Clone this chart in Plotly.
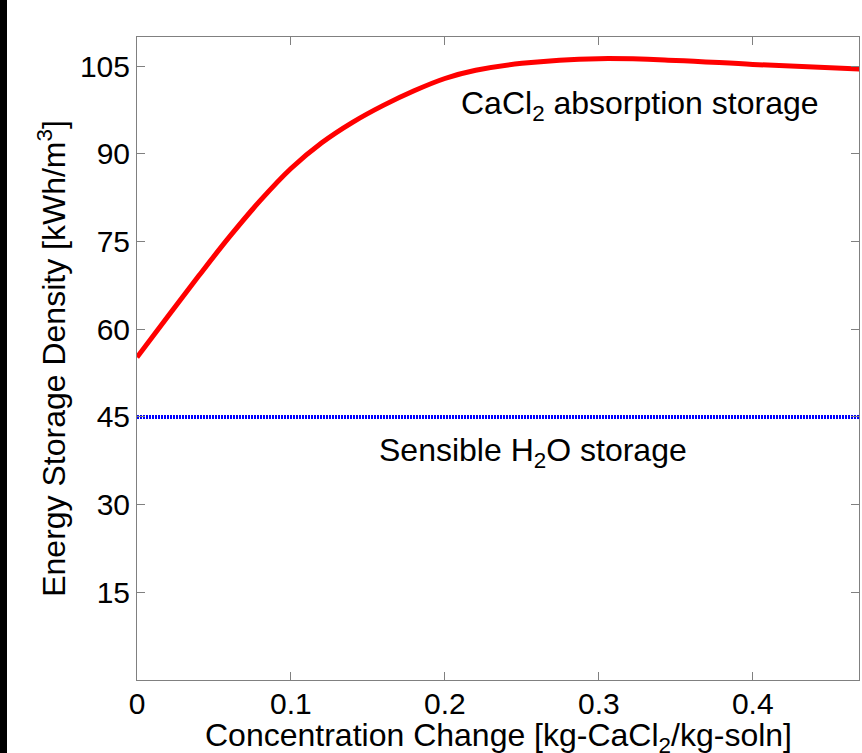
import plotly.graph_objects as go

# Data
conc = [0.0, 0.02, 0.04, 0.06, 0.08, 0.10, 0.12, 0.14, 0.16, 0.18, 0.20, 0.22, 0.25, 0.30, 0.35, 0.40, 0.47]
cacl2_density = [55.2, 62.2, 69.1, 75.8, 82.0, 87.5, 91.9, 95.4, 98.3, 100.8, 102.9, 104.3, 105.5, 106.3, 106.0, 105.3, 104.5]
sensible_x = [0.0, 0.47]
sensible_density = [45.0, 45.0]

x_ticks = [0, 0.1, 0.2, 0.3, 0.4]
x_ticklabels = ["0", "0.1", "0.2", "0.3", "0.4"]
y_ticks = [15, 30, 45, 60, 75, 90, 105]
y_ticklabels = ["15", "30", "45", "60", "75", "90", "105"]

FONT = "Liberation Sans, Arial, sans-serif"

fig = go.Figure()
fig.add_trace(go.Scatter(x=conc, y=cacl2_density, mode="lines",
                         line=dict(color="#ff0000", width=5, shape="spline", smoothing=1.0),
                         showlegend=False, hoverinfo="skip"))
fig.add_trace(go.Scatter(x=sensible_x, y=sensible_density, mode="lines",
                         line=dict(color="#0000ff", width=4, dash="2px,1px"),
                         showlegend=False, hoverinfo="skip"))

fig.add_annotation(x=0.327, y=98.2, xref="x", yref="y",
                   text="CaCl<sub>2</sub> absorption storage", showarrow=False,
                   font=dict(family=FONT, size=32, color="black"))
fig.add_annotation(x=0.257, y=39.0, xref="x", yref="y",
                   text="Sensible H<sub>2</sub>O storage", showarrow=False,
                   font=dict(family=FONT, size=32, color="black"))

# x-axis title (placed as paper annotation so it can sit at the very bottom edge)
fig.add_annotation(x=0.5, y=-57/643, xref="paper", yref="paper", yanchor="middle",
                   text="Concentration Change [kg-CaCl<sub>2</sub>/kg-soln]", showarrow=False,
                   font=dict(family=FONT, size=32, color="black"))

# black strip at the left edge of the picture
fig.add_shape(type="rect", xref="paper", yref="paper",
              x0=-137/722 - 0.01, x1=-130/722, y0=-73/643 - 0.02, y1=1 + 37/643 + 0.02,
              fillcolor="black", line=dict(width=0), layer="above")

axis_common = dict(showgrid=False, zeroline=False, showline=True, linecolor="#808080",
                   linewidth=1, mirror="ticks", ticks="inside", ticklen=8,
                   tickcolor="#808080", tickwidth=1,
                   tickfont=dict(family=FONT, size=30, color="black"))

fig.update_xaxes(range=[0, 0.469], tickvals=x_ticks, ticktext=x_ticklabels,
                 ticklabelstandoff=-3, **axis_common)
fig.update_yaxes(range=[0, 110], tickvals=y_ticks, ticktext=y_ticklabels,
                 title=dict(text="Energy Storage Density [kWh/m<sup>3</sup>]",
                            font=dict(family=FONT, size=32, color="black"), standoff=4),
                 **axis_common)

fig.update_layout(width=862, height=753, autosize=False,
                  margin=dict(l=137, r=3, t=37, b=73, autoexpand=False),
                  paper_bgcolor="white", plot_bgcolor="white")

fig.write_html("out.html", config={"displayModeBar": False},
               post_script="document.body.style.margin='0px';document.body.style.overflow='hidden';")
